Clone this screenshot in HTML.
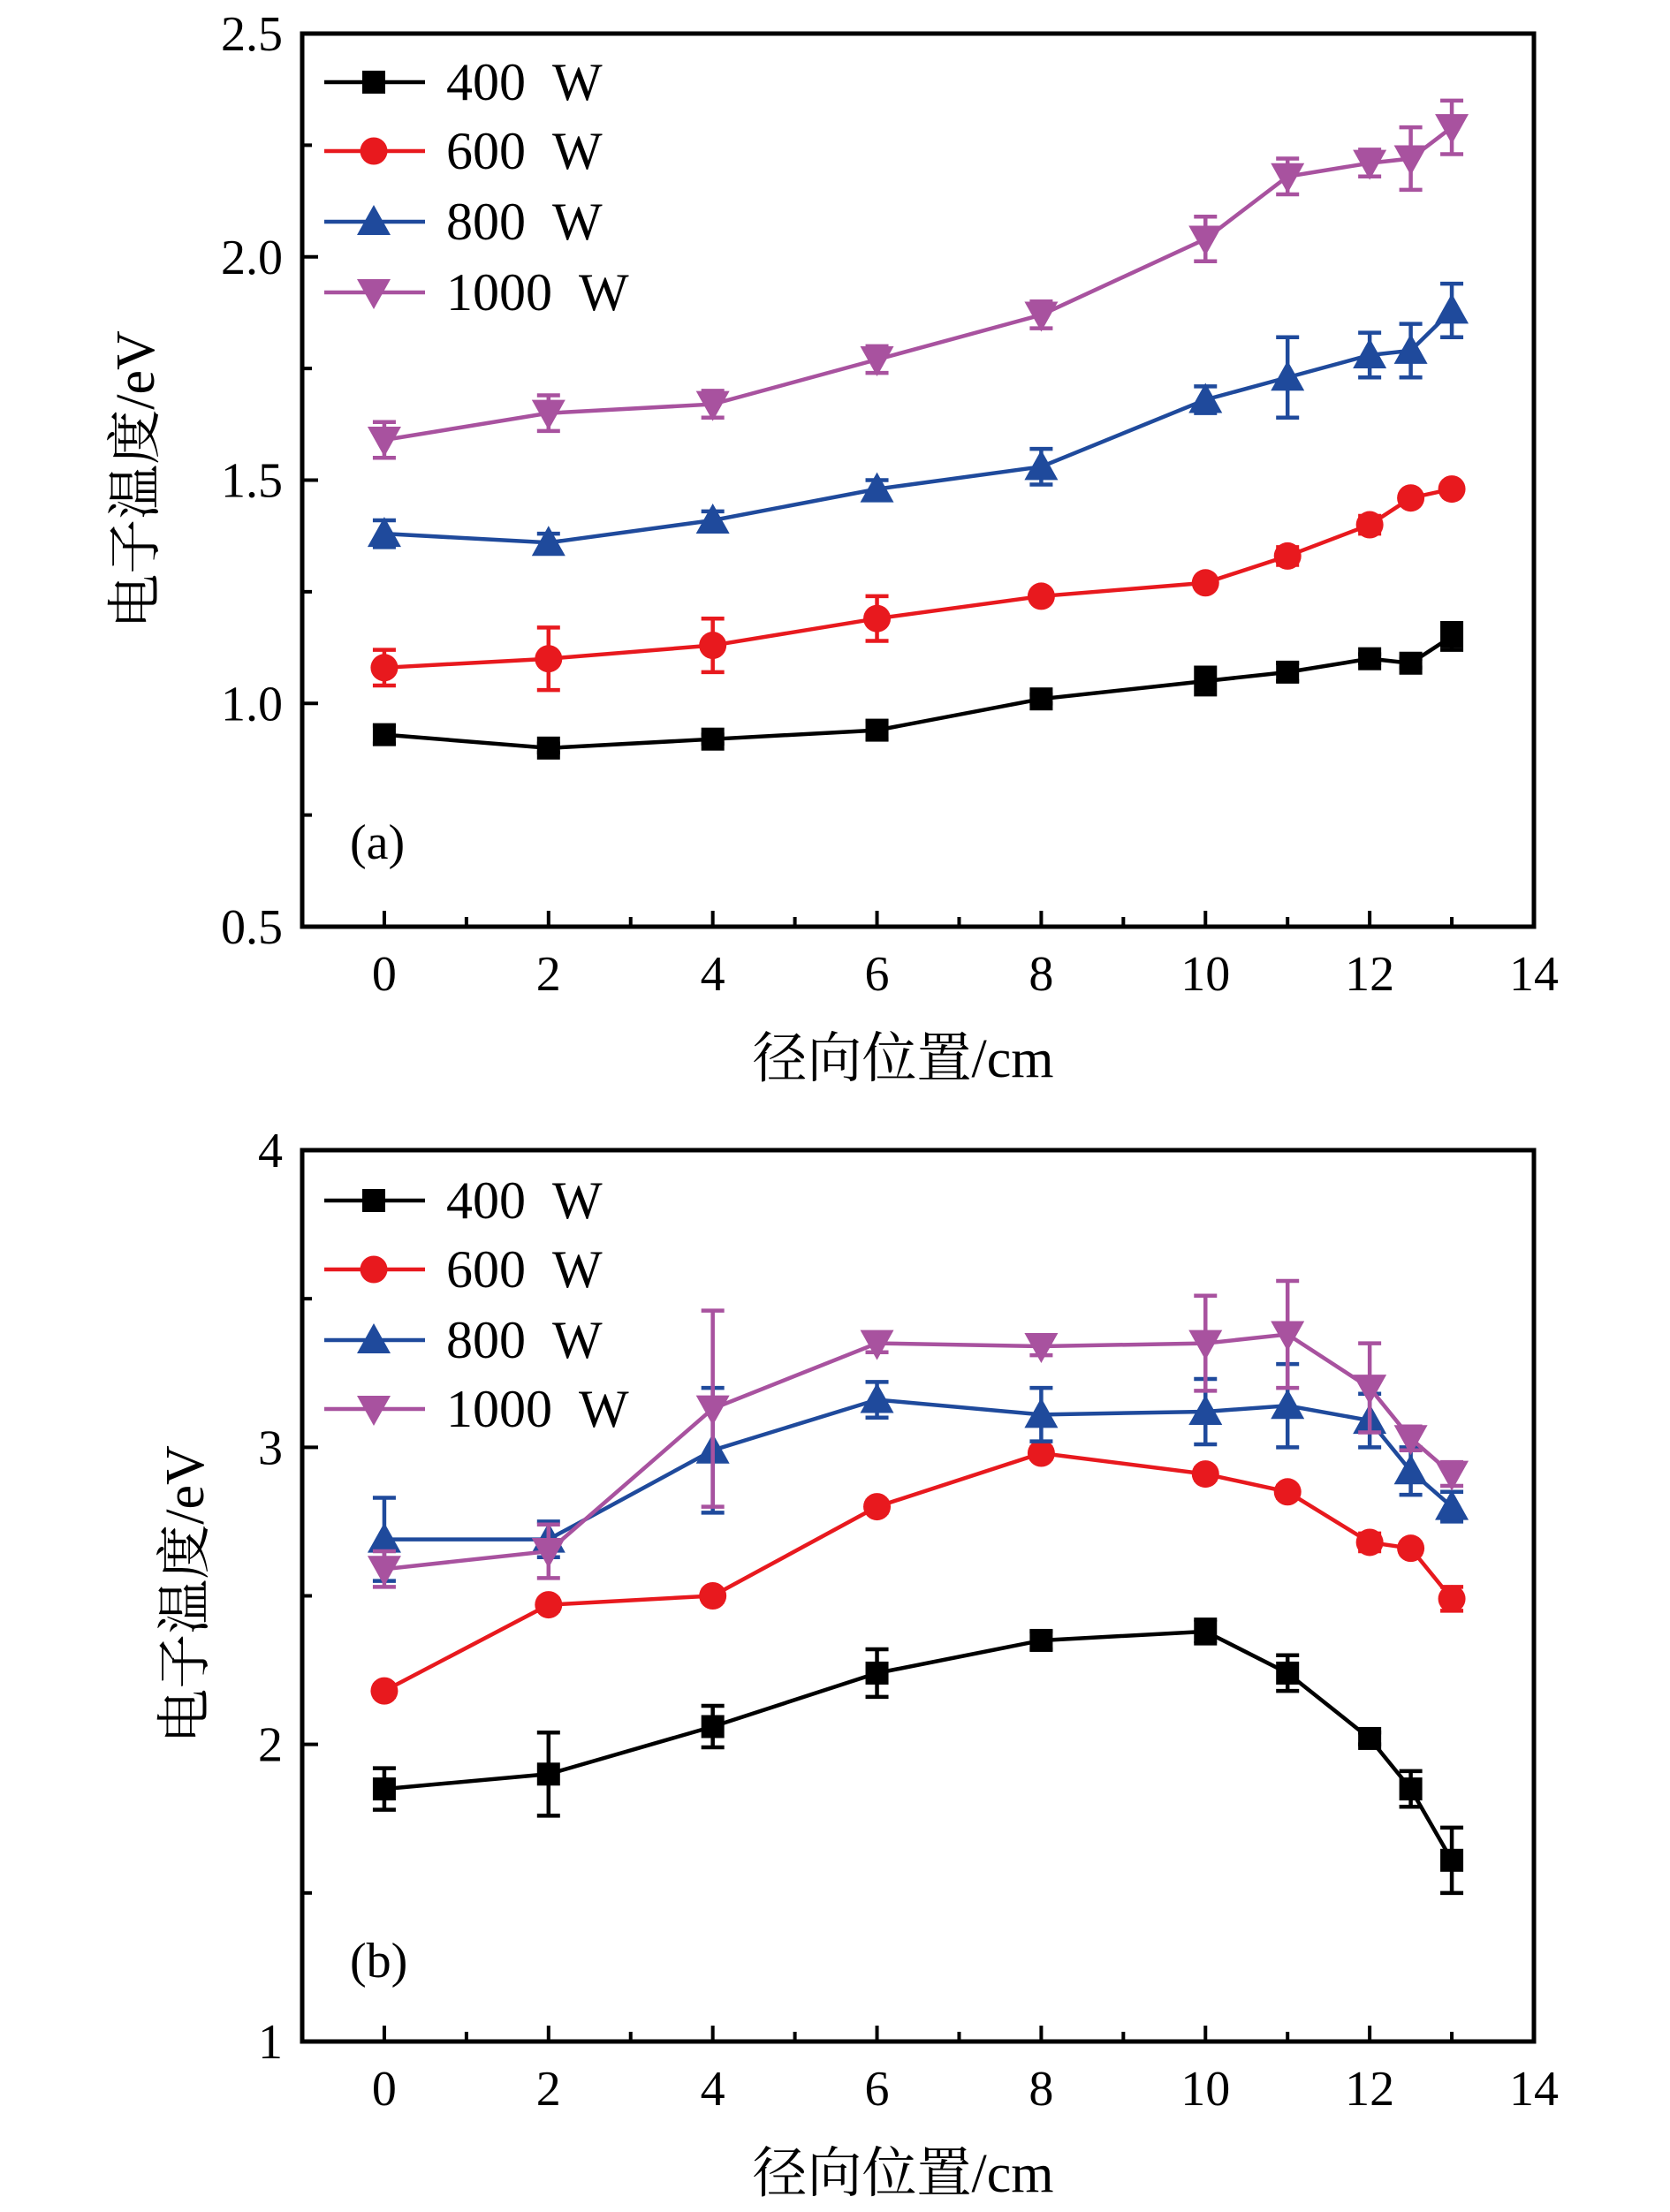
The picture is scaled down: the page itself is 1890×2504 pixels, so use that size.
<!DOCTYPE html>
<html><head><meta charset="utf-8"><style>
html,body{margin:0;padding:0;background:#fff;}
svg{display:block;}
text{font-family:"Liberation Serif","Noto Serif CJK SC",serif;fill:#000;}
</style></head><body>
<svg id="fig" width="1890" height="2504" viewBox="0 0 1890 2504" xmlns="http://www.w3.org/2000/svg"></svg>
<script>
const xPositions = [0,2,4,6,8,10,11,12,12.5,13];
const seriesNames = ["400 W","600 W","800 W","1000 W"];
const a400 = [0.93,0.90,0.92,0.94,1.01,1.05,1.07,1.10,1.09,1.15];
const a400err = [0.02,0.01,0.01,0.02,0.01,0.03,0.02,0.01,0.01,0.03];
const a600 = [1.08,1.10,1.13,1.19,1.24,1.27,1.33,1.40,1.46,1.48];
const a600err = [0.04,0.07,0.06,0.05,0.01,0.01,0.02,0.02,0.01,0.01];
const a800 = [1.38,1.36,1.41,1.48,1.53,1.68,1.73,1.78,1.79,1.88];
const a800err = [0.03,0.02,0.02,0.02,0.04,0.03,0.09,0.05,0.06,0.06];
const a1000 = [1.59,1.65,1.67,1.77,1.87,2.04,2.18,2.21,2.22,2.29];
const a1000err = [0.04,0.04,0.03,0.03,0.03,0.05,0.04,0.03,0.07,0.06];
const b400 = [1.85,1.90,2.06,2.24,2.35,2.38,2.24,2.02,1.85,1.61];
const b400err = [0.07,0.14,0.07,0.08,0.03,0.04,0.06,0.02,0.06,0.11];
const b600 = [2.18,2.47,2.50,2.80,2.98,2.91,2.85,2.68,2.66,2.49];
const b600err = [0.02,0.02,0.02,0.02,0.02,0.02,0.02,0.03,0.02,0.04];
const b800 = [2.69,2.69,2.99,3.16,3.11,3.12,3.14,3.09,2.92,2.80];
const b800err = [0.14,0.06,0.21,0.06,0.09,0.11,0.14,0.09,0.08,0.05];
const b1000 = [2.59,2.65,3.13,3.35,3.34,3.35,3.38,3.20,3.03,2.91];
const b1000err = [0.06,0.09,0.33,0.03,0.03,0.16,0.18,0.15,0.04,0.04];
const xTicks = [0,2,4,6,8,10,12,14];
const aYTicks = ["0.5","1.0","1.5","2.0","2.5"];
const bYTicks = ["1","2","3","4"];

const colors = ["#000000","#e8191e","#1f4a9c","#a8529f"];
const markers = ["square","circle","tri-up","tri-down"];
const NS = "http://www.w3.org/2000/svg";
const svg = document.getElementById("fig");
function mk(tag, attrs, parent){
  const e = document.createElementNS(NS, tag);
  for (const k in attrs) e.setAttribute(k, attrs[k]);
  (parent||svg).appendChild(e);
  return e;
}
function marker(g, type, cx, cy, col){
  let e;
  if (type==="square") e = mk("rect",{x:cx-13,y:cy-13,width:26,height:26,fill:col},g);
  else if (type==="circle") e = mk("circle",{cx:cx,cy:cy,r:15.5,fill:col},g);
  else if (type==="tri-up") e = mk("polygon",{points:`${cx-19},${cy+15} ${cx+19},${cy+15} ${cx},${cy-19}`,fill:col},g);
  else e = mk("polygon",{points:`${cx-19},${cy-15} ${cx+19},${cy-15} ${cx},${cy+19}`,fill:col},g);
  return e;
}
function panel(cfg){
  const L=342,R=1736,T=cfg.top,B=cfg.bottom;
  const xs = v => L + (v+1)*(R-L)/15;
  const ys = v => B - (v-cfg.ymin)*(B-T)/(cfg.ymax-cfg.ymin);
  const g = mk("g",{});
  
  
  for (let v=-1; v<=14; v++){
    const len = (v%2===0)?18:11;
    const t = mk("line",{x1:xs(v),x2:xs(v),y1:B,y2:B-len,stroke:"#000","stroke-width":4},g);
    
    
  }
  xTicks.forEach(v=>{
    const t = mk("text",{x:xs(v),y:B+72,"font-size":56,"text-anchor":"middle"},g);
    t.textContent = v;
    
    
  });
  for (let v=cfg.ymin; v<=cfg.ymax+1e-9; v+=cfg.minor){
    const major = Math.abs(((v-cfg.ymin)/cfg.major) - Math.round((v-cfg.ymin)/cfg.major))<1e-6;
    const t = mk("line",{x1:L,x2:L+(major?18:11),y1:ys(v),y2:ys(v),stroke:"#000","stroke-width":4},g);
    
    
  }
  cfg.yTicks.forEach(s=>{
    const v = parseFloat(s);
    const t = mk("text",{x:L-22,y:ys(v)+19,"font-size":56,"text-anchor":"end"},g);
    t.textContent = s;
    
    
  });
  cfg.series.forEach((vals,i)=>{
    const err = cfg.errs[i], col = colors[i];
    const sg = mk("g",{},g);
    
    
    const pts = vals.map((v,j)=>xs(xPositions[j])+","+ys(v)).join(" ");
    mk("polyline",{points:pts,fill:"none",stroke:col,"stroke-width":4.5},sg);
    vals.forEach((v,j)=>{
      const x = xs(xPositions[j]);
      const y1 = ys(v+err[j]), y2 = ys(v-err[j]);
      const eb = mk("path",{d:`M${x},${y1}V${y2}M${x-13},${y1}H${x+13}M${x-13},${y2}H${x+13}`,stroke:col,"stroke-width":4.5,fill:"none"},sg);
      
      
      const m = marker(sg, markers[i], x, ys(v), col);
      
      
    });
  });
  const fr = mk("rect",{x:L,y:T,width:R-L,height:B-T,fill:"none",stroke:"#000","stroke-width":5},g);
  
  
  const lg = mk("g",{},g);
  
  
  cfg.legendY.forEach((y,i)=>{
    const e = mk("g",{},lg);
    
    
    mk("line",{x1:367,x2:481,y1:y,y2:y,stroke:colors[i],"stroke-width":4.5},e);
    marker(e, markers[i], 423, y, colors[i]);
    const t = mk("text",{x:505,y:y+20,"font-size":60},e);
    t.textContent = seriesNames[i].replace(' ','\u00a0\u00a0');
  });
  const pl = mk("text",{x:396,y:cfg.labelY,"font-size":56},g);
  pl.textContent = cfg.label;
  
  
  const xt = mk("text",{x:1022,y:B+170,"font-size":62,"text-anchor":"middle"},g);
  xt.textContent = "径向位置/cm";
  
  
  const yt = mk("text",{x:0,y:0,"font-size":62,"text-anchor":"middle",transform:`translate(${cfg.ytX},${cfg.ytY}) rotate(-90)`},g);
  yt.textContent = "电子温度/eV";
  
  
}
panel({name:"chart-a",top:38,bottom:1049,ymin:0.5,ymax:2.5,major:0.5,minor:0.25,yTicks:aYTicks,
  series:[a400,a600,a800,a1000],errs:[a400err,a600err,a800err,a1000err],
  legendY:[93,171,251,331],label:"(a)",labelY:972,ytX:174,ytY:543});
panel({name:"chart-b",top:1302,bottom:2311,ymin:1,ymax:4,major:1,minor:0.5,yTicks:bYTicks,
  series:[b400,b600,b800,b1000],errs:[b400err,b600err,b800err,b1000err],
  legendY:[1359,1437,1517,1595],label:"(b)",labelY:2238,ytX:230,ytY:1805});
</script>
</body></html>
